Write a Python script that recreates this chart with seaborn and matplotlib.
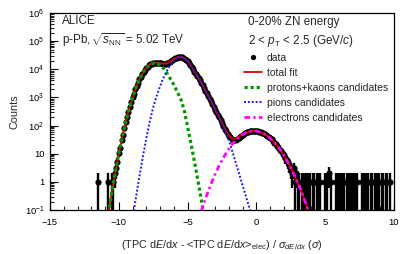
import numpy as np
import pandas as pd
import matplotlib
matplotlib.use("Agg")
import matplotlib.pyplot as plt
from matplotlib.lines import Line2D
from matplotlib.ticker import LogLocator, FixedLocator, MultipleLocator, NullFormatter
import seaborn as sns

# ---------------- data ----------------
# fit components (counts) on their own x grids
green_x = [-10.75, -10.5, -10.25, -10.0, -9.75, -9.5, -9.25, -9.0, -8.75, -8.5, -8.25, -8.0,
           -7.75, -7.5, -7.25, -7.0, -6.75, -6.5, -6.25, -6.0, -5.75, -5.5, -5.25, -5.0,
           -4.75, -4.5, -4.25, -4.0, -3.75]
green_y = [0.076, 0.447, 2.24, 10.0, 38.9, 132, 389, 1000, 2240, 4370, 7590, 11200,
           14500, 16400, 16200, 14100, 10700, 7240, 4570, 2820, 1580, 891, 355, 89.1,
           22.4, 5.25, 1.12, 0.224, 0.040]

pion_x = [-9.0, -8.75, -8.5, -8.25, -8.0, -7.75, -7.5, -7.25, -7.0, -6.75, -6.5, -6.25,
          -6.0, -5.75, -5.5, -5.25, -5.0, -4.75, -4.5, -4.25, -4.0, -3.75, -3.5, -3.25,
          -3.0, -2.75, -2.5, -2.25, -2.0, -1.75, -1.5, -1.25, -1.0, -0.75, -0.5, -0.25]
pion_y = [0.050, 0.282, 1.58, 7.94, 35.5, 141, 447, 1120, 2510, 5010, 8910, 14100,
          20000, 25100, 27500, 24500, 19500, 13200, 8320, 5370, 3310, 1950, 1120, 646,
          372, 214, 120, 61.7, 29.5, 12.3, 4.79, 1.91, 0.741, 0.295, 0.115, 0.045]

elec_x = [-4.0, -3.75, -3.5, -3.25, -3.0, -2.75, -2.5, -2.25, -2.0, -1.75, -1.5, -1.25,
          -1.0, -0.75, -0.5, -0.25, 0.0, 0.25, 0.5, 0.75, 1.0, 1.25, 1.5, 1.75,
          2.0, 2.25, 2.5, 2.75, 3.0, 3.25, 3.5, 3.75, 4.0]
elec_y = [0.093, 0.214, 0.457, 0.955, 1.86, 3.39, 5.89, 9.55, 14.8, 21.9, 30.2, 38.9,
          47.9, 56.2, 61.7, 64.6, 63.1, 58.9, 52.5, 44.7, 35.5, 26.9, 19.5, 13.5,
          8.71, 5.37, 3.16, 1.78, 0.933, 0.468, 0.224, 0.102, 0.044]

# data histogram: bins of 0.1 from -10.5 to 3.3
data_start, data_step = -10.5, 0.1
data_n = [1, 1, 2, 3, 5, 11, 16, 31, 47, 84,
          130, 210, 310, 470, 690, 1010, 1370, 1920, 2560, 3340,
          4380, 5480, 6780, 8100, 9570, 11200, 12500, 13900, 15000, 15900,
          16900, 17100, 17200, 17200, 16900, 16600, 16200, 15900, 15800, 16000,
          16100, 17100, 18100, 19400, 21000, 22800, 24300, 25800, 27000, 27700,
          28400, 26900, 25500, 23700, 21500, 19600, 16700, 14300, 12000, 10000,
          8300, 7000, 5850, 4880, 4020, 3300, 2680, 2170, 1750, 1400,
          1120, 900, 720, 580, 465, 372, 300, 240, 195, 157,
          125, 100, 78, 63, 52, 42, 38, 33, 31, 30,
          31, 33, 35, 38, 43, 48, 52, 56, 58, 61,
          62, 64, 66, 63, 65, 62, 63, 59, 58, 54,
          53, 50, 45, 43, 40, 35, 32, 29, 24, 23,
          19, 17, 14, 13, 10, 9, 7, 6, 5, 4,
          3, 2, 3, 1, 2, 1, 1, 0, 1]
# isolated low-count bins
tail_x = [-11.5, -10.8, 3.4, 3.5, 3.7, 3.8, 3.9, 4.1, 4.2, 4.4, 4.5, 4.6,
          5.0, 5.1, 5.3, 5.4, 5.8, 5.9, 6.1, 6.2, 6.4, 6.6, 6.7, 6.9, 7.0, 7.2, 7.3,
          7.7, 7.8, 8.0, 8.1, 8.3, 8.4, 8.6, 8.8, 8.9, 9.1, 9.2, 9.4, 9.5, 9.7]
tail_n = [1, 1, 1, 1, 1, 1, 1, 1, 1, 1, 1, 1,
          1, 1, 2, 1, 1, 1, 1, 1, 1, 1, 1, 1, 1, 1, 1,
          1, 1, 1, 1, 1, 1, 1, 1, 1, 1, 1, 1, 1, 1]

legend_labels = ["data", "total fit", "protons+kaons candidates", "pions candidates",
                 "electrons candidates"]

# ---------------- tables ----------------
data_x = np.round(data_start + data_step * np.arange(len(data_n)), 2)
hist = pd.DataFrame({"x": np.concatenate([data_x, tail_x]),
                     "n": np.concatenate([data_n, tail_n]).astype(float)})
hist = hist[hist["n"] > 0]
hist["lo"] = np.minimum(np.sqrt(hist["n"]), hist["n"] - 1e-3)
hist["hi"] = np.sqrt(hist["n"])

g = pd.DataFrame({"x": green_x, "green": green_y})
p = pd.DataFrame({"x": pion_x, "pion": pion_y})
e = pd.DataFrame({"x": elec_x, "elec": elec_y})
fit = g.merge(p, on="x", how="outer").merge(e, on="x", how="outer").sort_values("x")
fit["total"] = fit[["green", "pion", "elec"]].fillna(0).sum(axis=1)

# ---------------- style ----------------
sns.set_theme(style="white")
plt.rcParams["font.family"] = ["Liberation Sans", "DejaVu Sans"]
plt.rcParams["mathtext.fontset"] = "custom"
plt.rcParams["mathtext.rm"] = "Liberation Sans"
plt.rcParams["mathtext.it"] = "Liberation Sans:italic"
plt.rcParams["mathtext.bf"] = "Liberation Sans:bold"

fig = plt.figure(figsize=(4.15, 2.54), dpi=100)
ax = fig.add_axes([50 / 415, 1 - 210 / 254, 344 / 415, 197 / 254])

# data
ax.errorbar(hist["x"], hist["n"], yerr=[hist["lo"], hist["hi"]], xerr=0.05,
            fmt="none", ecolor="black", elinewidth=1.7, capsize=0, zorder=2)
sns.scatterplot(data=hist, x="x", y="n", ax=ax, color="black", s=20,
                edgecolor="black", linewidth=0, zorder=3, legend=False)

# fits
sns.lineplot(data=fit, x="x", y="total", ax=ax, color="#e00000", lw=1.3,
             estimator=None, sort=False, zorder=4, legend=False)
sns.lineplot(data=g, x="x", y="green", ax=ax, color="#009a00", lw=2.3,
             linestyle=(0, (1, 0.9)), estimator=None, sort=False, zorder=5, legend=False)
sns.lineplot(data=p, x="x", y="pion", ax=ax, color="#1a1aff", lw=1.4,
             linestyle=(0, (1, 1)), estimator=None, sort=False, zorder=5, legend=False)
sns.lineplot(data=e, x="x", y="elec", ax=ax, color="#ff00ff", lw=2.0,
             linestyle=(0, (2, 1.2, 0.8, 1.2)), estimator=None, sort=False, zorder=5,
             legend=False)

ax.set_yscale("log")
ax.set_xlim(-15, 10)
ax.set_ylim(0.1, 1e6)

ax.yaxis.set_major_locator(FixedLocator([0.1, 1, 10, 100, 1e3, 1e4, 1e5, 1e6]))
ax.set_yticklabels([r"10$^{-1}$", "1", "10", r"10$^{2}$", r"10$^{3}$", r"10$^{4}$",
                    r"10$^{5}$", r"10$^{6}$"])
ax.yaxis.set_minor_locator(LogLocator(base=10, subs=np.arange(2, 10), numticks=20))
ax.yaxis.set_minor_formatter(NullFormatter())
ax.xaxis.set_minor_locator(MultipleLocator(1))
ax.set_xticks([-15, -10, -5, 0, 5, 10])
ax.set_xticklabels(["\u221215", "\u221210", "\u22125", "0", "5", "10"])

ax.tick_params(axis="x", which="major", pad=6)
ax.tick_params(axis="both", which="major", direction="in", length=6, width=0.8,
               labelsize=6.8, colors="black", left=True, bottom=True)
ax.tick_params(axis="y", which="major", pad=4)
ax.tick_params(axis="both", which="minor", direction="in", length=3, width=0.8,
               left=True, bottom=True)
for s in ax.spines.values():
    s.set_color("black")
    s.set_linewidth(0.9)

ax.set_xlabel(r"(TPC d$E$/d$x$ - <TPC d$E$/d$x$>$_{\rm elec}$) / $\sigma_{dE/dx}$ ($\sigma$)",
              fontsize=7.8, labelpad=8)
ax.set_ylabel("Counts", fontsize=7.8, labelpad=4)

# texts
fig.text(62 / 415, 1 - 21 / 254, "ALICE", fontsize=8.4, va="center", ha="left")
fig.text(62 / 415, 1 - 40 / 254, r"p-Pb,$\,\sqrt{s_{\rm NN}}$ = 5.02 TeV", fontsize=8.4,
         va="center", ha="left")
fig.text(248 / 415, 1 - 22 / 254, "0-20% ZN energy", fontsize=8.4, va="center", ha="left")
fig.text(248 / 415, 1 - 41 / 254, r"2 < $p_{\rm T}$ < 2.5 (GeV/$c$)", fontsize=8.4,
         va="center", ha="left")

handles = [
    Line2D([], [], color="black", marker="o", ms=2.8, lw=0),
    Line2D([], [], color="#e00000", lw=1.3),
    Line2D([], [], color="#009a00", lw=2.3, linestyle=(0, (1, 0.9))),
    Line2D([], [], color="#1a1aff", lw=1.4, linestyle=(0, (1, 1))),
    Line2D([], [], color="#ff00ff", lw=2.0, linestyle=(0, (2, 1.2, 0.8, 1.2))),
]
leg = ax.legend(handles, legend_labels, loc="upper left",
                bbox_to_anchor=((244 - 50) / 344, 1 - (53 - 13) / 197),
                frameon=False, fontsize=7.5, handlelength=1.75, handletextpad=0.45,
                labelspacing=0.48, borderpad=0, borderaxespad=0)

fig.savefig("out.png", dpi=100)
